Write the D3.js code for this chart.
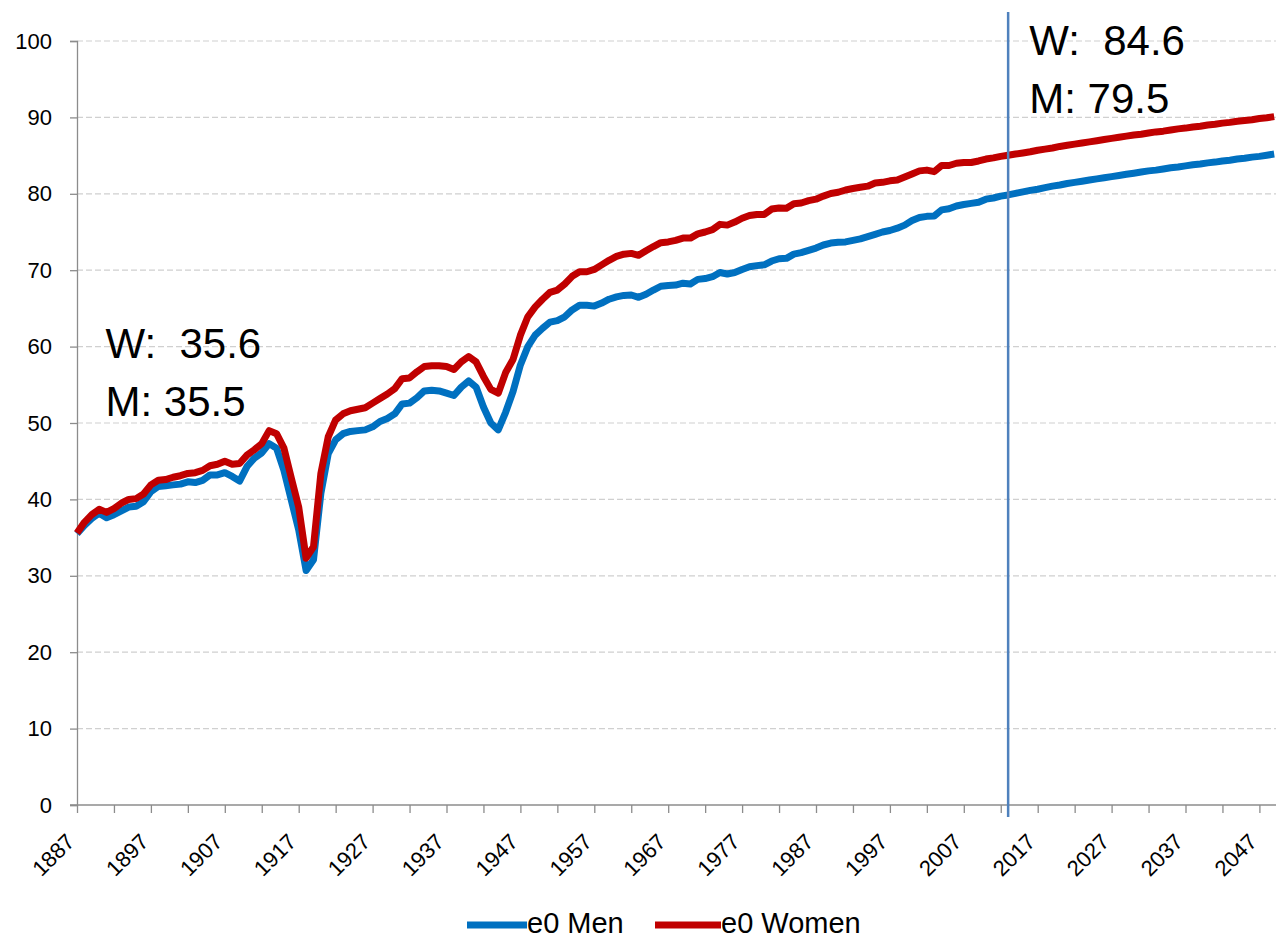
<!DOCTYPE html>
<html>
<head>
<meta charset="utf-8">
<script src="https://cdn.jsdelivr.net/npm/d3@7"></script>
<style>
  html, body { margin: 0; padding: 0; background: #fff; }
  svg { display: block; font-family: "Liberation Sans", Arial, sans-serif; }
</style>
</head>
<body>
<svg id="chart" width="1276" height="940"></svg>
<script>
// ---- Data ----
const firstYear = 1887;
const lastYear = 2049;
const years = d3.range(firstYear, lastYear + 1);

const e0Men = [
  35.5, 36.6, 37.5, 38.2, 37.6, 38.0, 38.5, 39.0, 39.1, 39.7,
  41.0, 41.7, 41.8, 41.9, 42.0, 42.3, 42.2, 42.5, 43.2, 43.2,
  43.5, 43.0, 42.4, 44.3, 45.4, 46.1, 47.3, 46.7, 43.8, 39.9,
  36.0, 30.7, 32.1, 40.8, 46.0, 47.8, 48.6, 48.9, 49.0, 49.1,
  49.5, 50.2, 50.6, 51.2, 52.5, 52.6, 53.3, 54.2, 54.3, 54.2,
  53.9, 53.6, 54.7, 55.5, 54.7, 52.1, 50.0, 49.1, 51.4, 54.1,
  57.6, 60.0, 61.5, 62.4, 63.2, 63.4, 63.9, 64.8, 65.4, 65.4,
  65.3, 65.7, 66.2, 66.5, 66.7, 66.75, 66.45, 66.85, 67.4, 67.9,
  68.0, 68.05, 68.3, 68.2, 68.8, 68.9, 69.15, 69.7, 69.5, 69.7,
  70.1, 70.45, 70.6, 70.7, 71.2, 71.5, 71.55, 72.1, 72.3, 72.6,
  72.9, 73.3, 73.55, 73.65, 73.7, 73.9, 74.1, 74.4, 74.7, 75.0,
  75.2, 75.5, 75.9, 76.5, 76.9, 77.05, 77.1, 77.9, 78.05, 78.4,
  78.6, 78.75, 78.9, 79.3, 79.45, 79.7, 79.85,
  // projection 2014-2049
  80.05, 80.25, 80.45, 80.6, 80.8, 81.0, 81.15, 81.35, 81.5, 81.65,
  81.8, 81.95, 82.1, 82.25, 82.4, 82.55, 82.7, 82.85, 83.0, 83.1,
  83.25, 83.4, 83.5, 83.65, 83.8, 83.9, 84.05, 84.15, 84.3, 84.4,
  84.55, 84.65, 84.8, 84.9, 85.05, 85.2
];

const e0Women = [
  35.6, 37.0, 38.0, 38.7, 38.3, 38.8, 39.5, 40.0, 40.1, 40.7,
  41.9, 42.5, 42.6, 42.9, 43.1, 43.4, 43.5, 43.8, 44.4, 44.6,
  45.0, 44.6, 44.7, 45.8, 46.5, 47.3, 49.0, 48.6, 46.7, 42.8,
  39.0, 32.3, 33.8, 43.4, 48.2, 50.4, 51.2, 51.6, 51.8, 52.0,
  52.6, 53.2, 53.8, 54.5, 55.8, 55.9, 56.7, 57.4, 57.5, 57.5,
  57.4, 57.0, 58.0, 58.7, 58.0, 56.1, 54.4, 53.9, 56.6, 58.3,
  61.5, 63.9, 65.2, 66.2, 67.1, 67.4, 68.2, 69.2, 69.8, 69.8,
  70.1, 70.7, 71.3, 71.8, 72.1, 72.2, 71.95, 72.55, 73.1, 73.6,
  73.7, 73.9, 74.2, 74.2, 74.75, 75.0, 75.3, 76.0, 75.9, 76.3,
  76.8, 77.15, 77.3, 77.3, 78.0, 78.15, 78.1, 78.7, 78.8, 79.1,
  79.3, 79.7, 80.05, 80.2, 80.5, 80.7, 80.85, 81.0, 81.4, 81.5,
  81.7, 81.8, 82.2, 82.6, 83.0, 83.1, 82.9, 83.7, 83.7, 84.0,
  84.1, 84.1, 84.3, 84.55, 84.7, 84.9, 85.05,
  // projection 2014-2049
  85.2, 85.35, 85.5, 85.7, 85.85, 86.0, 86.2, 86.35, 86.5, 86.65,
  86.8, 86.95, 87.1, 87.25, 87.4, 87.55, 87.7, 87.8, 87.95, 88.1,
  88.2, 88.35, 88.5, 88.6, 88.75, 88.85, 89.0, 89.1, 89.25, 89.35,
  89.5, 89.6, 89.7, 89.85, 89.95, 90.1
];

const yTicks = [0, 10, 20, 30, 40, 50, 60, 70, 80, 90, 100];
const xLabelYears = d3.range(1887, 2048, 10);
const xTickYears = d3.range(1887, 2050, 5);
const markerYear = 2013;
const annotations = [
  { text: "W:  35.6", year: 1891, val: 58.5 },
  { text: "M: 35.5", year: 1891, val: 50.9 },
  { text: "W:  84.6", year: 2016, val: 98.2 },
  { text: "M: 79.5", year: 2016, val: 90.6 }
];
const seriesNames = ["e0 Men", "e0 Women"];
const seriesColors = ["#0070C0", "#C00000"];

// ---- Layout ----
const svg = d3.select("#chart");
const plotLeft = 77, plotRight = 1276, plotTop = 41, plotBottom = 805;

const x = d3.scaleLinear().domain([1887, 2049]).range([plotLeft, plotLeft + 162 * 7.39]);
const y = d3.scaleLinear().domain([0, 100]).range([plotBottom, plotTop]);

// gridlines
svg.append("g").selectAll("line")
  .data(yTicks.filter(d => d > 0))
  .join("line")
  .attr("x1", plotLeft).attr("x2", plotRight)
  .attr("y1", d => y(d)).attr("y2", d => y(d))
  .attr("stroke", "#d0d0d0").attr("stroke-width", 1.2)
  .attr("stroke-dasharray", "6,3");

// y axis
const yAxis = d3.axisLeft(y).tickValues(yTicks).tickSize(7).tickPadding(18);
const gy = svg.append("g").attr("transform", `translate(${plotLeft},0)`).call(yAxis);
gy.select(".domain").attr("stroke", "#8c8c8c").attr("stroke-width", 1.3);
gy.selectAll(".tick line").attr("stroke", "#8c8c8c").attr("stroke-width", 1.3);
gy.selectAll(".tick text").attr("font-size", 22).attr("fill", "#000")
  .attr("font-family", "Liberation Sans, Arial, sans-serif");

// x axis
const xAxis = d3.axisBottom(x).tickValues(xTickYears).tickSize(8).tickFormat("");
const gx = svg.append("g").attr("transform", `translate(0,${plotBottom})`).call(xAxis);
gx.select(".domain").attr("stroke", "#8c8c8c").attr("stroke-width", 1.3)
  .attr("d", `M${plotLeft - 7},0H${plotRight}`);
gx.selectAll(".tick line").attr("stroke", "#8c8c8c").attr("stroke-width", 1.3);

svg.append("g").selectAll("text")
  .data(xLabelYears)
  .join("text")
  .attr("transform", d => `translate(${x(d) - 1},${plotBottom + 38}) rotate(-45)`)
  .attr("text-anchor", "end")
  .attr("font-size", 22)
  .attr("fill", "#000")
  .text(d => d);

// lines
const line = d3.line().x((d, i) => x(years[i])).y(d => y(d));
[e0Men, e0Women].forEach((s, k) => {
  svg.append("path")
    .datum(s)
    .attr("fill", "none")
    .attr("stroke", seriesColors[k])
    .attr("stroke-width", 7)
    .attr("stroke-linejoin", "round")
    .attr("d", line);
});

// vertical marker line
svg.append("line")
  .attr("x1", x(markerYear)).attr("x2", x(markerYear))
  .attr("y1", 12).attr("y2", plotBottom + 12)
  .attr("stroke", "#4F81BD").attr("stroke-width", 2.5);

// annotations
svg.append("g").selectAll("text")
  .data(annotations)
  .join("text")
  .attr("x", d => x(d.year) - 1)
  .attr("y", d => y(d.val))
  .attr("font-size", 42)
  .attr("fill", "#000")
  .style("white-space", "pre")
  .attr("xml:space", "preserve")
  .text(d => d.text);

// legend
const legend = svg.append("g");
const legendItems = [
  { x1: 467, x2: 527, tx: 527 },
  { x1: 655, x2: 721, tx: 721 }
];
legendItems.forEach((it, k) => {
  legend.append("line")
    .attr("x1", it.x1).attr("x2", it.x2).attr("y1", 925).attr("y2", 925)
    .attr("stroke", seriesColors[k]).attr("stroke-width", 7);
  legend.append("text")
    .attr("x", it.tx).attr("y", 933)
    .attr("font-size", 29).attr("fill", "#000")
    .text(seriesNames[k]);
});
</script>
</body>
</html>
